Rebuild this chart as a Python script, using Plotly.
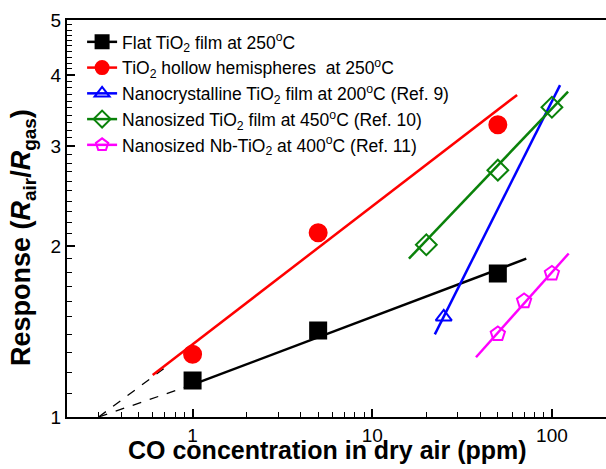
import plotly.graph_objects as go
import numpy as np

# ---- data ----
flat_x = [1, 5, 50]
flat_y = [1.16, 1.42, 1.79]
flat_fit_x = [1, 72]
flat_fit_y = [1.14, 1.90]

hollow_x = [1, 5, 50]
hollow_y = [1.29, 2.11, 3.27]
hollow_fit_x = [0.6, 64]
hollow_fit_y = [1.186, 3.69]

nano_x = [25]
nano_y = [1.50]
nano_fit_x = [22.3, 111]
nano_fit_y = [1.398, 3.84]

nsize_x = [20, 50, 100]
nsize_y = [2.01, 2.72, 3.51]
nsize_fit_x = [16, 123]
nsize_fit_y = [1.90, 3.74]

nb_x = [50, 70, 100]
nb_y = [1.40, 1.60, 1.79]
nb_fit_x = [37.8, 124]
nb_fit_y = [1.274, 1.94]

dash1_x = [0.3, 1]
dash1_y = [1.0, 1.14]
dash2_x = [0.3, 0.75]
dash2_y = [1.0, 1.24]

x_major = [1, 10, 100]
y_major = [1, 2, 3, 4, 5]

names = [
    "Flat TiO<sub>2</sub> film at 250<sup>o</sup>C",
    "TiO<sub>2</sub> hollow hemispheres  at 250<sup>o</sup>C",
    "Nanocrystalline TiO<sub>2</sub> film at 200<sup>o</sup>C (Ref. 9)",
    "Nanosized TiO<sub>2</sub> film at 450<sup>o</sup>C (Ref. 10)",
    "Nanosized Nb-TiO<sub>2</sub> at 400<sup>o</sup>C (Ref. 11)",
]
colors = ["#000000", "#FF0000", "#0000FF", "#0A820A", "#FF00FF"]
symbols = ["square", "circle", "triangle-up-open", "diamond-open", "pentagon-open"]
sizes = [16, 17, 14, 16, 15]

series = [
    (flat_x, flat_y, flat_fit_x, flat_fit_y),
    (hollow_x, hollow_y, hollow_fit_x, hollow_fit_y),
    (nano_x, nano_y, nano_fit_x, nano_fit_y),
    (nsize_x, nsize_y, nsize_fit_x, nsize_fit_y),
    (nb_x, nb_y, nb_fit_x, nb_fit_y),
]

x_minor = sorted(set([round(v * m, 3) for m in [0.1, 1, 10, 100] for v in range(2, 10)
                      if 0.2 <= round(v * m, 3) <= 200]))
y_minor = [round(1 + 0.1 * k, 1) for k in range(1, 40) if round(1 + 0.1 * k, 1) not in y_major]

fig = go.Figure()
FONT = "Arial, Liberation Sans, sans-serif"

for dx, dy in [(dash1_x, dash1_y), (dash2_x, dash2_y)]:
    fig.add_trace(go.Scatter(x=dx, y=dy, mode="lines", showlegend=False,
                             line=dict(color="black", width=1.3, dash="dash"),
                             hoverinfo="skip"))

for i, (x, y, fx, fy) in enumerate(series):
    c = colors[i]
    fig.add_trace(go.Scatter(x=fx, y=fy, mode="lines", showlegend=False,
                             line=dict(color=c, width=2.5), hoverinfo="skip"))
    fig.add_trace(go.Scatter(x=x, y=y, mode="markers", showlegend=False,
                             marker=dict(symbol=symbols[i], size=sizes[i], color=c,
                                         line=dict(color=c, width=2))))
    fig.add_trace(go.Scatter(x=[None], y=[None], mode="lines+markers", name=names[i],
                             line=dict(color=c, width=2.5),
                             marker=dict(symbol=symbols[i], size=13, color=c,
                                         line=dict(color=c, width=2))))

# empty trace on the overlay axes that carry the short minor ticks
fig.add_trace(go.Scatter(x=[None], y=[None], xaxis="x2", yaxis="y2",
                         showlegend=False, hoverinfo="skip"))

xr = [np.log10(0.2), np.log10(200)]
yr = [0, np.log10(5)]

fig.update_layout(
    width=606, height=469,
    margin=dict(l=67, r=0, t=20, b=52),
    paper_bgcolor="white", plot_bgcolor="white",
    font=dict(family=FONT, color="black"),
    showlegend=True,
    legend=dict(x=0.028, y=0.99, xanchor="left", yanchor="top",
                bgcolor="rgba(0,0,0,0)", font=dict(size=17.5, family=FONT),
                tracegroupgap=0, itemwidth=30),
    xaxis=dict(type="log", range=xr,
               tickmode="array", tickvals=x_major, ticktext=[str(v) for v in x_major],
               ticks="inside", ticklen=8, tickwidth=1.8, tickcolor="black",
               showline=True, linecolor="black", linewidth=2, mirror=True,
               showgrid=False, zeroline=False,
               tickfont=dict(size=19, family=FONT)),
    yaxis=dict(type="log", range=yr,
               tickmode="array", tickvals=y_major, ticktext=[str(v) for v in y_major],
               ticks="inside", ticklen=8, tickwidth=1.8, tickcolor="black",
               showline=True, linecolor="black", linewidth=2,
               showgrid=False, zeroline=False,
               tickfont=dict(size=19, family=FONT)),
    xaxis2=dict(type="log", range=xr, overlaying="x", anchor="y2", side="bottom",
                tickmode="array", tickvals=x_minor, showticklabels=False,
                ticks="inside", ticklen=5, tickwidth=1.3, tickcolor="black",
                showline=False, showgrid=False, zeroline=False),
    yaxis2=dict(type="log", range=yr, overlaying="y", anchor="x2", side="left",
                tickmode="array", tickvals=y_minor, showticklabels=False,
                ticks="inside", ticklen=5, tickwidth=1.3, tickcolor="black",
                showline=False, showgrid=False, zeroline=False),
    annotations=[
        dict(text="<b>CO concentration in dry air (ppm)</b>", xref="paper", yref="paper",
             x=(327 - 67) / 539, y=-(450 - 417) / 397, xanchor="center", yanchor="middle",
             showarrow=False, font=dict(size=25, family=FONT)),
        dict(text="<b>Response (<i>R</i><sub>air</sub>/<i>R</i><sub>gas</sub>)</b>",
             xref="paper", yref="paper", textangle=-90,
             x=(23 - 67) / 539, y=(417 - 238) / 397, xanchor="center", yanchor="middle",
             showarrow=False, font=dict(size=27, family=FONT)),
    ],
)

fig.write_html("out.html", config={"displayModeBar": False},
               post_script="document.body.style.margin='0';")
